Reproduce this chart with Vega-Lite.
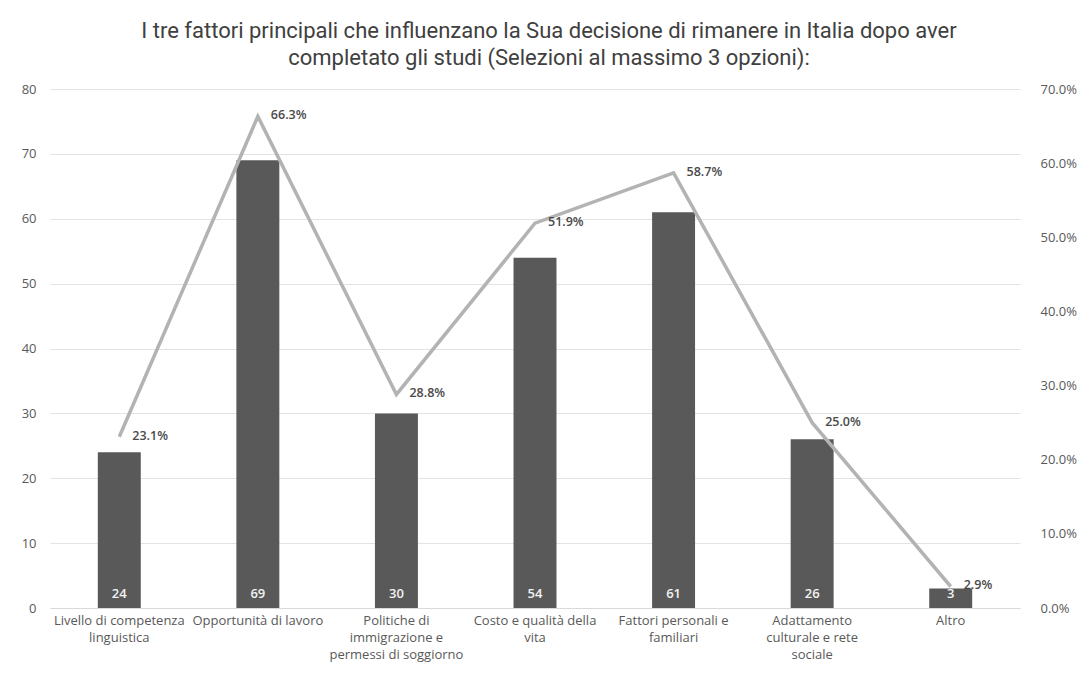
{
  "$schema": "https://vega.github.io/schema/vega-lite/v6.json",
  "width": 970,
  "height": 519,
  "autosize": {"type": "none"},
  "padding": {"left": 50, "top": 89, "right": 64, "bottom": 65},
  "background": "white",
  "title": {
    "text": ["I tre fattori principali che influenzano la Sua decisione di rimanere in Italia dopo aver", "completato gli studi (Selezioni al massimo 3 opzioni):"],
    "font": "Liberation Sans Narrow, Roboto, sans-serif",
    "fontSize": 22,
    "fontWeight": "normal",
    "color": "#404040",
    "lineHeight": 27,
    "anchor": "middle",
    "dx": 14,
    "offset": 13
  },
  "data": {
    "values": [
      {"cat": "Livello di competenza\nlinguistica", "count": 24, "pct": 0.231},
      {"cat": "Opportunità di lavoro", "count": 69, "pct": 0.663},
      {"cat": "Politiche di\nimmigrazione e\npermessi di soggiorno", "count": 30, "pct": 0.288},
      {"cat": "Costo e qualità della\nvita", "count": 54, "pct": 0.519},
      {"cat": "Fattori personali e\nfamiliari", "count": 61, "pct": 0.587},
      {"cat": "Adattamento\nculturale e rete\nsociale", "count": 26, "pct": 0.25},
      {"cat": "Altro", "count": 3, "pct": 0.029}
    ]
  },
  "encoding": {
    "x": {
      "field": "cat",
      "type": "nominal",
      "sort": null,
      "scale": {"paddingInner": 0.69, "paddingOuter": 0.345},
      "axis": {
        "title": null,
        "labelAngle": 0,
        "labelExpr": "split(datum.label, '\\n')",
        "labelLineHeight": 17,
        "labelFont": "Open Sans, sans-serif",
        "labelFontSize": 13,
        "labelColor": "#595959",
        "labelPadding": 6,
        "labelBaseline": "top",
        "ticks": false,
        "domain": true,
        "domainColor": "#d9d9d9",
        "labelLimit": 200
      }
    }
  },
  "layer": [
    {
      "layer": [
        {
          "mark": {"type": "bar", "color": "#595959"},
          "encoding": {
            "y": {
              "field": "count",
              "type": "quantitative",
              "scale": {"domain": [0, 80]},
              "axis": {
                "title": null,
                "values": [0, 10, 20, 30, 40, 50, 60, 70, 80],
                "grid": true,
                "gridColor": "#e3e3e3",
                "domain": false,
                "ticks": false,
                "labelPadding": 14,
                "labelFont": "Open Sans, sans-serif",
                "labelFontSize": 13,
                "labelColor": "#595959"
              }
            }
          }
        },
        {
          "mark": {"type": "text", "color": "#f2f2f2", "fontWeight": 600, "fontSize": 13, "font": "Open Sans, sans-serif", "baseline": "middle", "dy": -14},
          "encoding": {
            "y": {"datum": 0, "type": "quantitative"},
            "text": {"field": "count", "type": "quantitative"}
          }
        }
      ]
    },
    {
      "layer": [
        {
          "mark": {"type": "line", "color": "#b3b3b3", "strokeWidth": 3.5},
          "encoding": {
            "y": {
              "field": "pct",
              "type": "quantitative",
              "scale": {"domain": [0, 0.7]},
              "axis": {
                "orient": "right",
                "title": null,
                "format": ".1%",
                "values": [0, 0.1, 0.2, 0.3, 0.4, 0.5, 0.6, 0.7],
                "grid": false,
                "domain": false,
                "ticks": false,
                "labelPadding": 20,
                "labelFont": "Open Sans, sans-serif",
                "labelFontSize": 13,
                "labelColor": "#595959"
              }
            }
          }
        },
        {
          "mark": {"type": "text", "color": "#4a4a4a", "fontWeight": 600, "fontSize": 12.5, "font": "Open Sans, sans-serif", "align": "left", "baseline": "middle", "dx": 13, "dy": -1},
          "encoding": {
            "y": {"field": "pct", "type": "quantitative"},
            "text": {"field": "pct", "type": "quantitative", "format": ".1%"}
          }
        }
      ]
    }
  ],
  "resolve": {"scale": {"y": "independent"}},
  "config": {"view": {"stroke": null}}
}
